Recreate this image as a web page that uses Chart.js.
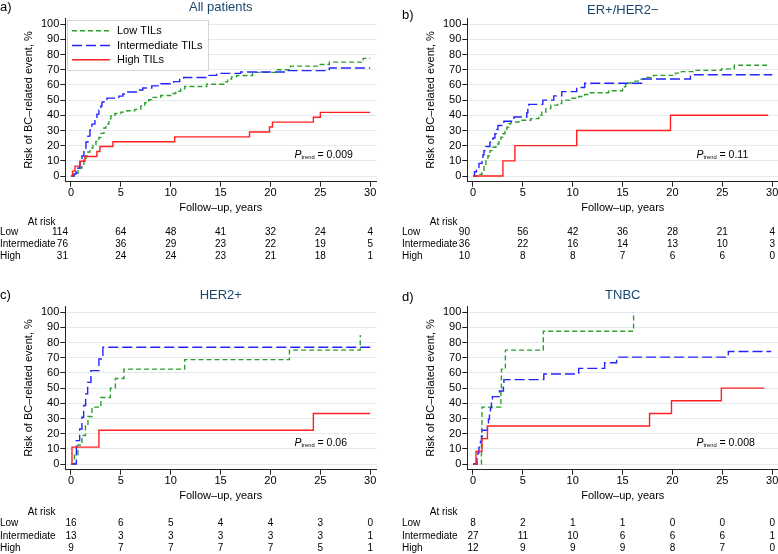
<!DOCTYPE html>
<html>
<head>
<meta charset="utf-8">
<script src="https://cdn.jsdelivr.net/npm/chart.js@4.4.1/dist/chart.umd.min.js"></script>
<style>
  html, body { margin: 0; padding: 0; background: #fff; }
  body { position: relative; width: 778px; height: 554px; overflow: hidden; }
  canvas { position: absolute; }
</style>
</head>
<body>
<canvas id="chartA" width="404" height="277" style="left:-13px;top:0"></canvas>
<canvas id="chartB" width="404" height="277" style="left:389px;top:0"></canvas>
<canvas id="chartC" width="404" height="266" style="left:-13px;top:288px"></canvas>
<canvas id="chartD" width="404" height="266" style="left:389px;top:288px"></canvas>
<script>
const FONT = "'Liberation Sans', Arial, Helvetica, sans-serif";
const GREEN = '#2ca02c', BLUE = '#2424ff', RED = '#ff2020';
const NAVY = '#1a476f';
const GRID = '#e3ebee';

const seriesNames = ['Low TILs', 'Intermediate TILs', 'High TILs'];
const riskRowNames = ['Low', 'Intermediate', 'High'];
const xTicks = [0, 5, 10, 15, 20, 25, 30];
const yTicks = [0, 10, 20, 30, 40, 50, 60, 70, 80, 90, 100];
const panelTitles = ['All patients', 'ER+/HER2\u2212', 'HER2+', 'TNBC'];
const panelLetters = ['a)', 'b)', 'c)', 'd)'];
const pTrend = ['0.009', '0.11', '0.06', '0.008'];

// a) All patients  [years, risk %]
const allLow = [[0,0],[0.3,0.9],[0.5,1.8],[0.7,3.5],[0.9,5.3],[1.1,7.9],[1.3,10.5],[1.5,13.2],[1.7,15.8],[1.9,18.4],[2.2,20.2],[2.5,22.8],[2.8,25.4],[3.0,28.1],[3.3,31.6],[3.5,34.2],[3.8,37.7],[4.0,39.5],[4.4,41.2],[5.0,42.1],[5.6,43.0],[6.4,43.9],[7.0,46.1],[7.4,48.3],[7.8,50.2],[8.1,51.8],[9.0,53.0],[10.0,54.4],[10.5,55.8],[11.0,57.4],[11.4,59.0],[13.6,60.5],[15.3,62.0],[15.7,63.8],[16.1,65.3],[16.6,66.2],[18.2,68.3],[20.6,70.0],[22.0,72.4],[24.9,73.5],[25.9,75.0],[29.3,77.5],[30.0,77.5]];
const allMid = [[0,0],[0.3,1.3],[0.5,2.6],[0.7,5.3],[0.9,9.2],[1.1,13.2],[1.3,18.4],[1.5,22.4],[1.7,26.3],[1.9,30.3],[2.1,34.2],[2.4,38.2],[2.6,40.8],[2.8,43.4],[3.0,46.1],[3.1,48.7],[3.3,50.0],[3.6,51.3],[4.8,52.6],[5.2,54.0],[5.6,55.3],[6.8,56.7],[7.2,58.0],[8.1,59.4],[9.0,60.8],[10.3,62.2],[10.9,63.6],[11.3,64.9],[13.6,66.3],[14.6,67.6],[17.0,68.5],[21.6,69.4],[25.9,71.2],[30.0,71.2]];
const allHigh = [[0,0],[0.15,3.2],[0.4,6.5],[0.9,9.7],[1.4,12.9],[2.6,16.1],[2.9,19.4],[4.2,22.6],[10.4,25.8],[17.9,29.0],[19.9,32.3],[20.2,35.5],[24.3,38.7],[25.0,41.9],[30.0,41.9]];
const allRiskLow = [114, 64, 48, 41, 32, 24, 4];
const allRiskMid = [76, 36, 29, 23, 22, 19, 5];
const allRiskHigh = [31, 24, 24, 23, 21, 18, 1];

// b) ER+/HER2-
const erLow = [[0,0],[0.7,1.1],[0.9,3.3],[1.1,6.7],[1.3,10.0],[1.5,13.3],[1.7,16.7],[2.0,18.9],[2.3,21.1],[2.6,23.3],[2.8,25.6],[3.0,27.8],[3.2,30.0],[3.4,32.2],[3.6,34.4],[3.8,35.6],[4.6,36.7],[5.8,37.8],[6.6,40.0],[6.9,42.2],[7.3,44.4],[7.8,46.7],[8.5,47.8],[8.9,50.0],[9.7,51.2],[10.6,52.4],[11.2,53.7],[11.6,54.9],[13.6,56.2],[15.0,58.8],[15.3,61.3],[16.0,62.5],[16.8,63.8],[17.3,65.0],[18.1,66.3],[20.3,67.8],[20.9,68.8],[22.2,69.6],[24.9,70.6],[26.2,73.0],[29.7,73.0]];
const erMid = [[0,0],[0.15,2.8],[0.35,5.6],[0.6,8.3],[0.9,11.1],[1.0,13.9],[1.1,16.7],[1.3,19.4],[1.7,22.2],[2.0,25.0],[2.2,27.8],[2.4,30.6],[2.5,33.3],[3.1,36.1],[4.1,38.9],[5.4,41.7],[5.5,44.4],[5.6,47.2],[7.0,50.0],[8.1,52.8],[8.9,55.6],[10.4,58.3],[11.2,61.1],[16.9,63.9],[21.8,66.7],[30.0,66.7]];
const erHigh = [[0,0],[3.0,10],[4.2,20],[10.4,30],[19.8,40],[29.6,40]];
const erRiskLow = [90, 56, 42, 36, 28, 21, 4];
const erRiskMid = [36, 22, 16, 14, 13, 10, 3];
const erRiskHigh = [10, 8, 8, 7, 6, 6, 0];

// c) HER2+
const herLow = [[0,0],[0.35,6.3],[0.7,12.5],[1.1,18.8],[1.45,25.0],[1.7,31.3],[2.1,37.5],[3.0,43.8],[3.95,50.0],[4.45,56.3],[5.3,62.5],[11.4,68.8],[21.9,75.0],[29.0,84.4],[29.1,84.4]];
const herMid = [[0,0],[0.54,15.4],[0.87,23.1],[1.1,30.8],[1.27,38.5],[1.47,46.2],[1.67,53.8],[2.0,61.5],[2.8,69.2],[3.2,76.9],[30.0,76.9]];
const herHigh = [[0,0],[0.1,11.1],[2.8,22.2],[24.3,33.3],[30.0,33.3]];
const herRiskLow = [16, 6, 5, 4, 4, 3, 0];
const herRiskMid = [13, 3, 3, 3, 3, 3, 1];
const herRiskHigh = [9, 7, 7, 7, 7, 5, 1];

// d) TNBC
const tnLow = [[0,0],[0.85,12.5],[0.88,25.0],[0.9,37.5],[2.8,50.0],[2.85,62.5],[3.25,75.0],[7.05,87.5],[16.1,100]];
const tnMid = [[0,0],[0.4,3.7],[0.5,7.4],[0.6,11.1],[0.75,14.8],[0.85,18.5],[0.95,22.2],[1.45,25.9],[1.55,29.6],[1.65,33.3],[1.75,37.0],[1.85,40.7],[1.95,44.4],[2.65,48.1],[3.05,51.9],[3.1,55.6],[7.1,59.3],[10.6,63.0],[13.2,66.7],[14.4,70.4],[25.6,74.1],[29.9,74.1]];
const tnHigh = [[0,0],[0.3,8.3],[0.9,16.7],[1.45,25.0],[17.7,33.3],[19.9,41.7],[24.9,50.0],[29.2,50.0]];
const tnRiskLow = [8, 2, 1, 1, 0, 0, 0];
const tnRiskMid = [27, 11, 10, 6, 6, 6, 1];
const tnRiskHigh = [12, 9, 9, 9, 8, 7, 0];

// title, letter, P value, legend and at-risk table
const decor = {
  id: 'decor',
  afterDraw(chart, args, o) {
    const { ctx, chartArea: a } = chart;
    const x = chart.scales.x, y = chart.scales.y;
    ctx.save();
    ctx.textBaseline = 'middle';

    ctx.fillStyle = '#000';
    ctx.textAlign = 'left';
    ctx.font = `13px ${FONT}`;
    ctx.fillText(o.letter, 13, o.letterY);

    ctx.fillStyle = NAVY;
    ctx.textAlign = 'center';
    ctx.fillText(o.title, (a.left + a.right) / 2, o.titleY);

    // P trend
    ctx.fillStyle = '#000';
    ctx.textAlign = 'left';
    const px = x.getPixelForValue(22.4), py = y.getPixelForValue(14);
    ctx.font = `italic 10.5px ${FONT}`;
    ctx.fillText('P', px, py);
    let w = ctx.measureText('P').width;
    ctx.font = `5.8px ${FONT}`;
    ctx.fillText('trend', px + w, py + 2.5);
    w += ctx.measureText('trend').width;
    ctx.font = `10.5px ${FONT}`;
    ctx.fillText(' = ' + o.p, px + w, py);

    // legend
    if (o.legend) {
      ctx.fillStyle = '#fff';
      ctx.fillRect(80.5, 20.5, 141, 50);
      ctx.strokeStyle = '#d4d4d4';
      ctx.lineWidth = 1;
      ctx.strokeRect(80.5, 20.5, 141, 50);
      const rows = [30.7, 45.5, 59.8];
      chart.data.datasets.forEach((ds, i) => {
        ctx.strokeStyle = ds.borderColor;
        ctx.lineWidth = 1.6;
        ctx.setLineDash(ds.borderDash);
        ctx.beginPath();
        ctx.moveTo(85, rows[i]);
        ctx.lineTo(123, rows[i]);
        ctx.stroke();
        ctx.setLineDash([]);
        ctx.fillStyle = '#000';
        ctx.font = `11px ${FONT}`;
        ctx.textAlign = 'left';
        ctx.fillText(ds.label, 130, rows[i]);
      });
    }

    // at-risk table
    ctx.font = `10px ${FONT}`;
    ctx.fillStyle = '#000';
    ctx.textAlign = 'right';
    ctx.fillText('At risk', 68.5, o.riskY);
    o.rows.forEach((vals, r) => {
      const ry = o.rowY + r * o.rowStep;
      ctx.textAlign = 'left';
      ctx.fillText(riskRowNames[r], 13, ry);
      vals.forEach((v, i) => {
        const tx = x.getPixelForValue(xTicks[i]);
        if (i === 0 && o.firstRight) {
          ctx.textAlign = 'right';
          ctx.fillText(String(v), tx - 3, ry);
        } else {
          ctx.textAlign = 'center';
          ctx.fillText(String(v), tx, ry);
        }
      });
    });
    ctx.restore();
  }
};

function makePanel(id, k, low, mid, high, rows, extra) {
  const el = document.getElementById(id);
  const H = el.height;
  const axisFont = { size: 11, family: FONT };
  new Chart(el, {
    type: 'line',
    data: {
      datasets: [
        { label: seriesNames[0], data: low, borderColor: GREEN, borderDash: [5, 3], order: 3 },
        { label: seriesNames[1], data: mid, borderColor: BLUE, borderDash: [10, 4], order: 2 },
        { label: seriesNames[2], data: high, borderColor: RED, borderDash: [], order: 1 }
      ]
    },
    options: {
      responsive: false,
      animation: false,
      events: [],
      datasets: { line: { stepped: 'before', pointRadius: 0, borderWidth: 1.4, fill: false } },
      layout: { padding: { top: 18.3, left: 0, right: 404 - 389.3, bottom: H - 214.3 } },
      plugins: {
        legend: { display: false },
        tooltip: { enabled: false },
        decor: Object.assign({
          letter: panelLetters[k], title: panelTitles[k], p: pTrend[k], rows: rows,
          legend: k === 0
        }, extra)
      },
      scales: {
        x: {
          type: 'linear', min: -0.57, max: 30.61,
          afterBuildTicks: s => { s.ticks = xTicks.map(v => ({ value: v })); },
          afterFit: s => { s.height = 32.6; },
          grid: { drawOnChartArea: false, tickLength: 5, tickColor: '#222' },
          border: { color: '#222', width: 1 },
          ticks: { padding: 0, color: '#000', font: axisFont, autoSkip: false, maxRotation: 0 },
          title: { display: true, text: 'Follow\u2013up, years', color: '#000', font: axisFont, padding: 0 }
        },
        y: {
          type: 'linear', min: -3.75, max: 103.9,
          afterBuildTicks: s => { s.ticks = yTicks.map(v => ({ value: v })); },
          afterFit: s => { s.width = 78.3; },
          grid: { color: GRID, lineWidth: 1, tickLength: 5, tickColor: '#222' },
          border: { color: '#222', width: 1 },
          ticks: { padding: 1, color: '#000', font: axisFont, autoSkip: false },
          title: { display: true, text: 'Risk of BC\u2013related event, %', color: '#000', font: axisFont,
                   padding: { top: 35.7, bottom: 0 } }
        }
      }
    },
    plugins: [decor]
  });
}

const topTable = { riskY: 222.7, rowY: 232.3, rowStep: 11.9 };
const botTable = { riskY: 224.7, rowY: 235.5, rowStep: 12.4 };

makePanel('chartA', 0, allLow, allMid, allHigh, [allRiskLow, allRiskMid, allRiskHigh],
  Object.assign({ letterY: 7.5, titleY: 7.5, firstRight: true }, topTable));
makePanel('chartB', 1, erLow, erMid, erHigh, [erRiskLow, erRiskMid, erRiskHigh],
  Object.assign({ letterY: 15, titleY: 10, firstRight: true }, topTable));
makePanel('chartC', 2, herLow, herMid, herHigh, [herRiskLow, herRiskMid, herRiskHigh],
  Object.assign({ letterY: 7.3, titleY: 7.3, firstRight: false }, botTable));
makePanel('chartD', 3, tnLow, tnMid, tnHigh, [tnRiskLow, tnRiskMid, tnRiskHigh],
  Object.assign({ letterY: 9.8, titleY: 7.3, firstRight: false }, botTable));
</script>
</body>
</html>
